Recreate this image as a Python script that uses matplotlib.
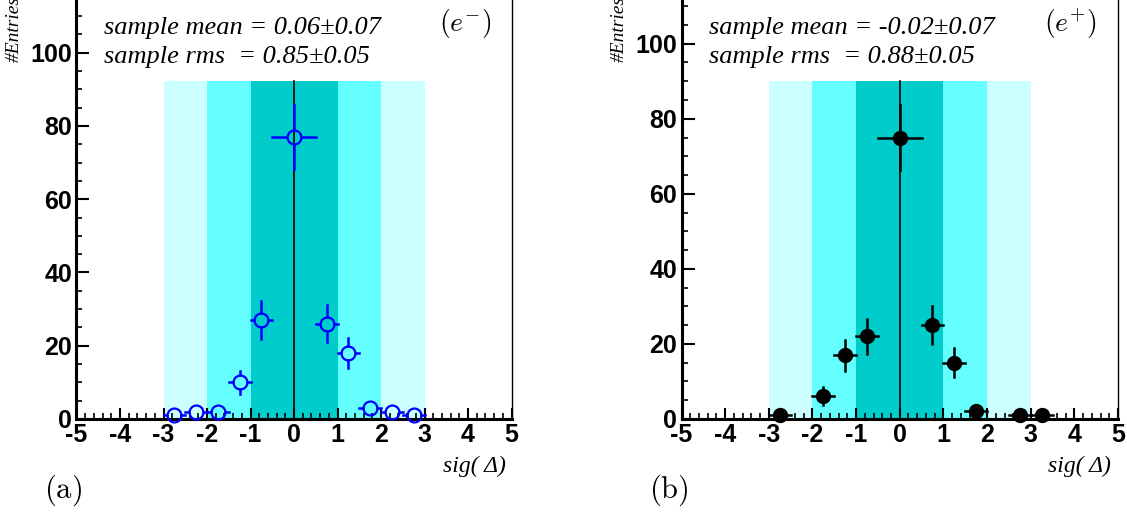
import matplotlib
matplotlib.use("Agg")
import matplotlib.pyplot as plt
from matplotlib.ticker import MultipleLocator

plt.rcParams['mathtext.fontset'] = 'cm'
plt.rcParams['axes.unicode_minus'] = False

# bin centres, half widths, counts and errors
x_em = [-2.75, -2.25, -1.75, -1.25, -0.75, 0.0, 0.75, 1.25, 1.75, 2.25, 2.75]
xerr_em = [0.25, 0.25, 0.25, 0.25, 0.25, 0.5, 0.25, 0.25, 0.25, 0.25, 0.25]
n_em = [1, 2, 2, 10, 27, 77, 26, 18, 3, 2, 1]
err_em = [1.0, 1.4, 1.4, 3.2, 5.2, 8.8, 5.1, 4.2, 1.7, 1.4, 1.0]

x_ep = [-2.75, -1.75, -1.25, -0.75, 0.0, 0.75, 1.25, 1.75, 2.75, 3.25]
xerr_ep = [0.25, 0.25, 0.25, 0.25, 0.5, 0.25, 0.25, 0.25, 0.25, 0.25]
n_ep = [1, 6, 17, 22, 75, 25, 15, 2, 1, 1]
err_ep = [1.0, 2.4, 4.1, 4.7, 8.7, 5.0, 3.9, 1.4, 1.0, 1.0]

stats_em = ["sample mean = 0.06\u00b10.07", "sample rms  = 0.85\u00b10.05"]
stats_ep = ["sample mean = -0.02\u00b10.07", "sample rms  = 0.88\u00b10.05"]

band_edges = [-3, -2, -1, 1, 2, 3]
band_colors = ['#ccffff', '#66ffff', '#00cccc', '#66ffff', '#ccffff']

W, H = 1127, 517
fig = plt.figure(figsize=(W / 100, H / 100), dpi=100)

tick_font = dict(family='Liberation Sans', weight='bold', size=18)
serif_it = dict(family='Liberation Serif', style='italic')


def make_axes(left, right, bottom, px_per_unit, ymax=120):
    h = ymax * px_per_unit
    ax = fig.add_axes([left / W, (H - bottom) / H, (right - left) / W, h / H])
    ax.set_xlim(-5, 5)
    ax.set_ylim(0, ymax)
    ax.spines['top'].set_visible(False)
    ax.spines['left'].set_linewidth(2.2)
    ax.spines['bottom'].set_linewidth(2.2)
    ax.spines['right'].set_linewidth(1.0)
    ax.xaxis.set_major_locator(MultipleLocator(1))
    ax.xaxis.set_minor_locator(MultipleLocator(0.2))
    ax.yaxis.set_major_locator(MultipleLocator(20))
    ax.yaxis.set_minor_locator(MultipleLocator(5))
    ax.tick_params(which='both', direction='in', top=False, right=False)
    ax.tick_params(axis='x', which='major', length=8, width=1.5, pad=3)
    ax.tick_params(axis='x', which='minor', length=4, width=1.2)
    ax.tick_params(axis='y', which='major', length=9, width=1.5, pad=3)
    ax.tick_params(axis='y', which='minor', length=4.5, width=1.2)
    for lab in ax.get_xticklabels() + ax.get_yticklabels():
        lab.set_fontproperties(matplotlib.font_manager.FontProperties(**tick_font))
    return ax


def draw_points(ax, x, xerr, y, yerr, color, filled):
    band_top = 1.2 * max(y)
    for i in range(len(band_colors)):
        ax.axvspan(band_edges[i], band_edges[i + 1], ymin=0, ymax=band_top / ax.get_ylim()[1],
                   color=band_colors[i], lw=0, zorder=0)
    ax.plot([0, 0], [0, band_top], color='black', lw=1.2, zorder=1)

    # ROOT style error bars: leave a gap where the marker sits
    p0 = ax.transData.transform((0, 0))
    p1 = ax.transData.transform((1, 1))
    r_px = 7.0
    gx = r_px / (p1[0] - p0[0])
    gy = r_px / (p1[1] - p0[1])
    for xi, dx, yi, dy in zip(x, xerr, y, yerr):
        if dy > gy:
            ax.plot([xi, xi], [yi + gy, yi + dy], color=color, lw=1.8, zorder=3, clip_on=False)
            ax.plot([xi, xi], [yi - dy, yi - gy], color=color, lw=1.8, zorder=3, clip_on=False)
        if dx > gx:
            ax.plot([xi - dx, xi - gx], [yi, yi], color=color, lw=1.8, zorder=3, clip_on=False)
            ax.plot([xi + gx, xi + dx], [yi, yi], color=color, lw=1.8, zorder=3, clip_on=False)
    if filled:
        ax.plot(x, y, 'o', ms=10, color=color, zorder=4, clip_on=False)
    else:
        ax.plot(x, y, 'o', ms=10, mfc='none', mec=color, mew=1.6, zorder=4, clip_on=False)


ax1 = make_axes(76.5, 511.5, 419, 3.663)
ax2 = make_axes(681.5, 1118, 419, 3.753)
draw_points(ax1, x_em, xerr_em, n_em, err_em, '#0000ff', False)
draw_points(ax2, x_ep, xerr_ep, n_ep, err_ep, 'black', True)


def fx(px):
    return px / W


def fy(py):
    return 1 - py / H


for left, stats, charge, letter in [(0, stats_em, r'$(e^{-})$', r'$\mathrm{(a)}$'),
                                     (605, stats_ep, r'$(e^{+})$', r'$\mathrm{(b)}$')]:
    fig.text(fx(left + 104), fy(28), stats[0], fontsize=19, va='center', ha='left', **serif_it)
    fig.text(fx(left + 104), fy(57), stats[1], fontsize=19, va='center', ha='left', **serif_it)
    fig.text(fx(left + 491), fy(24), charge, fontsize=20, va='center', ha='right')
    fig.text(fx(left + 44), fy(490), letter, fontsize=22, va='center', ha='left')
    fig.text(fx(left + 506), fy(466), 'sig( \u0394)', fontsize=17, va='center', ha='right', **serif_it)
    fig.text(fx(left + 14), fy(62), '#Entries', fontsize=14, rotation=90, va='bottom', ha='center',
             **serif_it)

fig.savefig('out.png', dpi=100)
